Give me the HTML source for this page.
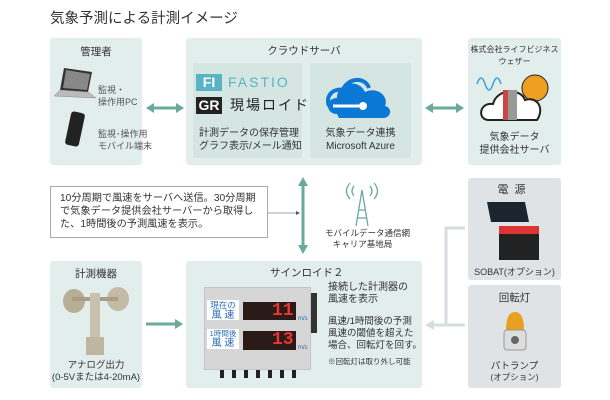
<!DOCTYPE html><html><head><meta charset="utf-8"><style>
*{margin:0;padding:0;box-sizing:border-box}
body{width:610px;height:400px;background:#fff;position:relative;font-family:"Liberation Sans","Noto Sans CJK JP",sans-serif;color:#333;overflow:hidden}
.a{position:absolute}
.box{position:absolute;background:#e2eeeb;border-radius:3px}
.in{position:absolute;background:#d5e6e2;border-radius:2px}
.t{position:absolute;font-size:10px;line-height:12px;white-space:nowrap}
.c{text-align:center}
.g{background:#dfe3e6}
</style></head><body>
<div class="t" style="left:50px;top:10px;font-size:14.5px;line-height:18px;color:#333">気象予測による計測イメージ</div>

<div class="box" style="left:50px;top:38px;width:92px;height:127px"></div>
<div class="t c" style="left:50px;top:46px;width:92px;font-size:10.5px">管理者</div>
<svg class="a" style="left:52px;top:66px" width="48" height="90">
<polygon points="12,2 40,6 36,26 8,24" fill="#333"/><polygon points="14,4 38,8 35,24 11,22" fill="#888"/>
<polygon points="8,24 36,26 44,32 2,30" fill="#bbb" stroke="#888" stroke-width=".5"/>
<rect x="16" y="46" width="14" height="34" rx="3" transform="rotate(12 23 63)" fill="#222"/>
</svg>
<div class="t" style="left:98px;top:84px;font-size:9px;line-height:12px;color:#555">監視・<br>操作用PC</div>
<div class="t" style="left:98px;top:128px;font-size:9px;line-height:12px;color:#555">監視･操作用<br>モバイル端末</div>

<div class="box" style="left:186px;top:38px;width:236px;height:127px"></div>
<div class="t c" style="left:186px;top:45px;width:236px;font-size:10.5px">クラウドサーバ</div>
<div class="in" style="left:193px;top:63px;width:109px;height:95px"></div>
<div class="in" style="left:310px;top:63px;width:101px;height:95px"></div>
<div class="a" style="left:196px;top:74px;width:26px;height:17px;background:#58b4c3;color:#fff;font-weight:bold;font-size:14px;line-height:17px;text-align:center">FI</div>
<div class="t" style="left:228px;top:74px;font-size:14px;line-height:17px;color:#58b4c3;letter-spacing:2px">FASTIO</div>
<div class="a" style="left:196px;top:97px;width:26px;height:17px;background:#222;color:#fff;font-weight:bold;font-size:14px;line-height:17px;text-align:center">GR</div>
<div class="t" style="left:230px;top:97px;font-size:14px;line-height:17px;color:#222;letter-spacing:2px">現場ロイド</div>
<div class="t" style="left:199px;top:127px;font-size:10px;line-height:13px">計測データの保存管理<br>グラフ表示/メール通知</div>
<svg class="a" style="left:325px;top:76px" width="70" height="45">
<path d="M12,38 C0,38 0,22 12,22 C12,6 34,2 40,16 C52,10 64,20 60,30 C68,32 66,42 58,42 L14,42Z" fill="#0a78d4"/>
<path d="M4,30 C0,20 8,12 18,14 C22,2 40,0 44,12" fill="none" stroke="#0a78d4" stroke-width="4"/>
<path d="M8,30 L34,30" stroke="#fff" stroke-width="3"/><circle cx="38" cy="30" r="4" fill="#fff"/>
</svg>
<div class="t c" style="left:310px;top:127px;width:101px;font-size:10px;line-height:13px">気象データ連携<br>Microsoft Azure</div>

<div class="box" style="left:468px;top:38px;width:93px;height:127px"></div>
<div class="t c" style="left:468px;top:44px;width:93px;font-size:8px;line-height:12px">株式会社ライフビジネス<br>ウェザー</div>
<svg class="a" style="left:475px;top:72px" width="80" height="52">
<path d="M2,12 q4,-12 8,0 t8,0 t8,0" fill="none" stroke="#3aa0d8" stroke-width="1.5"/>
<circle cx="60" cy="16" r="13" fill="#f0a020" stroke="#222"/>
<path d="M14,48 C2,48 4,30 18,32 C22,16 46,16 50,28 C62,24 70,36 62,48Z" fill="#fff" stroke="#222" stroke-width="2"/>
<rect x="28" y="18" width="14" height="30" fill="#999"/><rect x="28" y="18" width="5" height="30" fill="#c44"/>
</svg>
<div class="t c" style="left:468px;top:131px;width:93px;font-size:10px;line-height:13px">気象データ<br>提供会社サーバ</div>

<svg class="a" style="left:0;top:0" width="610" height="400">
<g fill="#6aaa9a" stroke="#6aaa9a" stroke-width="3">
<line x1="152" y1="108" x2="178" y2="108"/><polygon points="146,108 154,103 154,113" stroke="none"/><polygon points="184,108 176,103 176,113" stroke="none"/>
<line x1="431" y1="108" x2="458" y2="108"/><polygon points="425,108 433,103 433,113" stroke="none"/><polygon points="464,108 456,103 456,113" stroke="none"/>
<line x1="303" y1="184" x2="303" y2="247"/><polygon points="303,177 298,186 308,186" stroke="none"/><polygon points="303,254 298,245 308,245" stroke="none"/>
<line x1="146" y1="324" x2="176" y2="324"/><polygon points="183,324 175,319 175,329" stroke="none"/>
</g>
<line x1="268" y1="213" x2="298" y2="213" stroke="#888" stroke-width=".8"/><polygon points="300,213 296,211 296,215" fill="#555"/>
<g fill="none" stroke="#d5dde0" stroke-width="3"><polyline points="465,228 446,228 446,325"/><line x1="465" y1="325" x2="431" y2="325"/></g>
<polygon points="425,325 434,320 434,330" fill="#d5dde0"/>
<g stroke="#6aaa9a" stroke-width="1.3" fill="none"><path d="M362,190 L356,226 M362,190 L368,226 M358,210 L366,210 M357,218 L367,218"/><path d="M354,186 q-4,5 0,10 M370,186 q4,5 0,10 M350,183 q-7,8 0,16 M374,183 q7,8 0,16"/></g>
</svg>
<div class="a" style="left:50px;top:186px;width:218px;height:52px;border:1px solid #aaa;background:#fff"></div>
<div class="t" style="left:60px;top:192px;font-size:10.2px;line-height:13px">10分周期で風速をサーバへ送信。30分周期<br>で気象データ提供会社サーバーから取得し<br>た、1時間後の予測風速を表示。</div>
<div class="t c" style="left:325px;top:228px;width:75px;font-size:8.5px;line-height:11px">モバイルデータ通信網<br>キャリア基地局</div>

<div class="box g" style="left:468px;top:178px;width:93px;height:102px"></div>
<div class="t c" style="left:468px;top:184px;width:93px;font-size:11px;letter-spacing:6px">電源</div>
<svg class="a" style="left:485px;top:200px" width="60" height="64"><polygon points="2,2 40,2 44,22 6,22" fill="#1a2530"/><rect x="14" y="30" width="40" height="30" fill="#222"/><rect x="14" y="26" width="40" height="8" fill="#d33"/></svg>
<div class="t c" style="left:468px;top:266px;width:93px;font-size:9px">SOBAT(オプション)</div>
<div class="box g" style="left:468px;top:285px;width:93px;height:103px"></div>
<div class="t c" style="left:468px;top:292px;width:93px;font-size:10.5px">回転灯</div>
<svg class="a" style="left:500px;top:310px" width="30" height="46"><path d="M6,20 Q6,2 15,2 Q24,2 24,20Z" fill="#e8a020"/><rect x="4" y="20" width="22" height="20" rx="3" fill="#ddd" stroke="#999"/><circle cx="15" cy="30" r="4" fill="#666"/></svg>
<div class="t c" style="left:468px;top:361px;width:93px;font-size:9.5px;line-height:11px">パトランプ<br><span style="font-size:8.5px">(オプション)</span></div>

<div class="box" style="left:50px;top:261px;width:92px;height:127px"></div>
<div class="t c" style="left:50px;top:268px;width:92px;font-size:10.5px">計測機器</div>
<svg class="a" style="left:62px;top:285px" width="70" height="72"><ellipse cx="12" cy="16" rx="11" ry="12" fill="#b8ad95"/><ellipse cx="56" cy="14" rx="11" ry="12" fill="#c5bba5"/><rect x="10" y="12" width="46" height="4" fill="#a89e88"/><rect x="28" y="8" width="10" height="62" fill="#c9c0ad"/><rect x="24" y="52" width="18" height="18" fill="#bfb6a2"/></svg>
<div class="t c" style="left:50px;top:360px;width:92px;font-size:9.5px;line-height:12px">アナログ出力<br>(0-5Vまたは4-20mA)</div>

<div class="box" style="left:186px;top:261px;width:236px;height:127px"></div>
<div class="t" style="left:270px;top:267px;font-size:10.5px">サインロイド２</div>
<div class="a" style="left:204px;top:287px;width:107px;height:83px;background:#d6d6d6;border:1px solid #c4c4c4"></div>
<div class="a" style="left:311px;top:293px;width:6px;height:40px;background:#333"></div>
<div class="a" style="left:207px;top:300px;width:32px;height:20px;background:#fff"></div>
<div class="t c" style="left:207px;top:300px;width:32px;font-size:8.5px;line-height:10px;color:#2a6cb8">現在の<br><span style="font-size:10px">風 速</span></div>
<div class="a" style="left:207px;top:329px;width:32px;height:20px;background:#fff"></div>
<div class="t c" style="left:207px;top:329px;width:32px;font-size:7.5px;line-height:10px;color:#2a6cb8">1時間後<br><span style="font-size:10px">風 速</span></div>
<div class="a" style="left:243px;top:302px;width:53px;height:18px;background:#2a1a18"></div>
<div class="a" style="left:243px;top:331px;width:53px;height:19px;background:#2a1a18"></div>
<div class="t" style="left:272px;top:301px;font-size:18px;line-height:20px;color:#e33;font-family:'Liberation Mono',monospace;font-weight:bold">11</div>
<div class="t" style="left:272px;top:330px;font-size:18px;line-height:20px;color:#e33;font-family:'Liberation Mono',monospace;font-weight:bold">13</div>
<div class="t" style="left:298px;top:313px;font-size:6px;color:#2a6cb8">m/s</div>
<div class="t" style="left:298px;top:342px;font-size:6px;color:#2a6cb8">m/s</div>
<div class="a" style="left:220px;top:370px;width:80px;height:8px;background:repeating-linear-gradient(90deg,#222 0 4px,transparent 4px 12px)"></div>
<div class="t" style="left:328px;top:282px;font-size:10px;line-height:12px">接続した計測器の<br>風速を表示</div>
<div class="t" style="left:328px;top:316px;font-size:9.5px;line-height:12px">風速/1時間後の予測<br>風速の閾値を超えた<br>場合、回転灯を回す。</div>
<div class="t" style="left:328px;top:356px;font-size:7.5px">※回転灯は取り外し可能</div>
</body></html>
